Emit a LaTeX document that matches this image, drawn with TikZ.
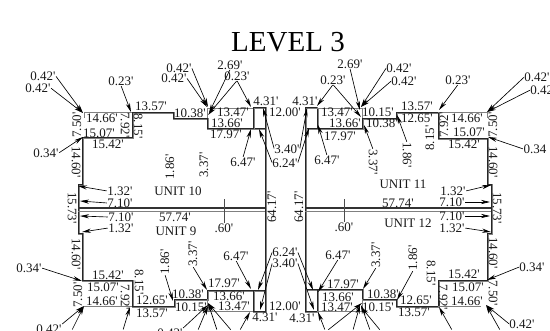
\documentclass[tikz,border=0pt]{standalone}
\usepackage{fontspec}
\usetikzlibrary{arrows.meta}
\newfontfamily\dimf{Liberation Serif}
\newcount\tipno
\newcommand\Tx[4]{\node[dimtext,rotate=#3] (#1) at (#2) {#4};}
\newcommand\Lead[2]{\global\advance\tipno by 1
  \coordinate (tip\the\tipno) at (#2);
  \draw[leader] (#1) -- (tip\the\tipno);}
\newcommand\Wall[1]{\draw[wallg,shift={(0.7,0.7)}] #1; \draw[wallk] #1;}
\tikzset{
  dimtext/.style={font=\dimf\fontsize{13}{13}\selectfont,inner sep=0pt,text=black!90},
  leader/.style={line width=0.65pt,black,-{Stealth[length=9pt,width=4.2pt]},shorten <=0.5pt},
  wallg/.style={line width=2pt,black!50,line join=miter},
  wallk/.style={line width=1pt,black!85,line join=miter},
  thinwall/.style={line width=1pt,black!50},
  tick/.style={line width=0.6pt,black!70}
}
\begin{document}
\begin{tikzpicture}[x=1pt,y=-1pt]
\useasboundingbox (0,0) rectangle (550,330);
\clip (0,0) rectangle (550,330);
\node[font=\dimf\fontsize{29}{29}\selectfont,inner sep=0pt] (title) at (288,42) {LEVEL 3};
% walls, unit 10 and 9 (left)
\Wall{(132,112) -- (173,112) -- (173,118) -- (207,118) -- (207,128.5) -- (265,128.5)}
\Wall{(132,112) -- (132,137) -- (82,137) -- (82,184) -- (78,184) -- (78,233) -- (82,233) -- (82,280) -- (132,280) -- (132,306) -- (174,306) -- (174,299) -- (207,299) -- (207,290) -- (265,290)}
\Wall{(253,107.5) -- (265,107.5) -- (265,311) -- (253,311) -- (253,290)}
\Wall{(253,107.5) -- (253,128.5)}
\draw[thinwall] (84,112) -- (132,112) (84,112) -- (84,118);
\draw[thinwall] (207,108) -- (253,108) (207,108) -- (207,118);
\draw[thinwall] (84,306.5) -- (132,306.5) (207,311) -- (253,311) (207,299) -- (207,311);
\draw[line width=1.1pt,black!80] (78,208) -- (265,208);
\draw[thinwall] (78,211) -- (265,211);
% walls, unit 11 and 12 (right)
\Wall{(396,112) -- (438,112) -- (438,138) -- (487,138) -- (487,184) -- (491,184) -- (491,233) -- (487,233) -- (487,280) -- (438,280) -- (438,306) -- (396,306) -- (396,299) -- (362,299) -- (362,289.5) -- (305,289.5)}
\Wall{(396,112) -- (396,118) -- (362,118) -- (362,128.5) -- (305,128.5)}
\Wall{(317,107.5) -- (305,107.5) -- (305,311) -- (317,311) -- (317,289.5)}
\Wall{(317,107.5) -- (317,128.5)}
\draw[thinwall] (438,112) -- (487,112) (487,112) -- (487,118);
\draw[thinwall] (317,108) -- (362,108) (362,108) -- (362,118);
\draw[thinwall] (438,306.5) -- (481,306.5) (317,311) -- (362,311) (362,299) -- (362,311);
\draw[line width=1.1pt,black!80] (305,208) -- (491,208);
\draw[thinwall] (305,211) -- (491,211);
% ticks
\coordinate (ta) at (224,199); \coordinate (tb) at (344,199);
\Tx{p60a}{224,228}{0}{.60'}
\Tx{p60b}{344,227}{0}{.60'}
\draw[tick] (ta) -- (p60a.north);
\draw[tick] (tb) -- (p60b.north);
% unit names
\Tx{u10}{178,191}{0}{UNIT 10}
\Tx{u9}{176,231}{0}{UNIT 9}
\Tx{u11}{403,184}{0}{UNIT 11}
\Tx{u12}{408,223}{0}{UNIT 12}
% top left texts
\Tx{a1}{43,76}{0}{0.42'}
\Tx{a2}{38,88}{0}{0.42'}
\Tx{a3}{121,81}{0}{0.23'}
\Tx{a4}{151,106}{0}{13.57'}
\Tx{a5}{190,113}{0}{10.38'}
\Tx{a6}{179,68}{0}{0.42'}
\Tx{a7}{174,78}{0}{0.42'}
\Tx{a8}{230,65}{0}{2.69'}
\Tx{a9}{237,76}{0}{0.23'}
\Tx{a10}{233,112}{0}{13.47'}
\Tx{a11}{266,101}{0}{4.31'}
\Tx{a12}{285,112}{0}{12.00'}
\Tx{a13}{227,123}{0}{13.66'}
\Tx{a14}{226,134}{0}{17.97'}
\Tx{a15}{102,118}{0}{14.66'}
\Tx{a16}{77,125}{90}{7.50'}
\Tx{a17}{125,125}{-90}{7.92'}
\Tx{a18}{138,126}{-90}{8.15'}
\Tx{a19}{99,133}{0}{15.07'}
\Tx{a20}{108,144}{0}{15.42'}
\Tx{a21}{46,153}{0}{0.34'}
\Tx{a22}{76,162}{-90}{14.60'}
\Tx{a23}{170,167}{90}{1.86'}
\Tx{a24}{204,165}{90}{3.37'}
\Tx{a25}{243,162}{0}{6.47'}
\Tx{a26}{287,149}{0}{3.40'}
\Tx{a27}{285,163}{0}{6.24'}
% top right texts
\Tx{b1}{305,101}{0}{4.31'}
\Tx{b2}{337,112}{0}{13.47'}
\Tx{b3}{345,123}{0}{13.66'}
\Tx{b4}{340,136}{0}{17.97'}
\Tx{b5}{327,160}{0}{6.47'}
\Tx{b6}{333,80}{0}{0.23'}
\Tx{b7}{350,64}{0}{2.69'}
\Tx{b8}{399,68}{0}{0.42'}
\Tx{b9}{404,81}{0}{0.42'}
\Tx{b10}{378,112}{0}{10.15'}
\Tx{b11}{382,123}{0}{10.38'}
\Tx{b12}{417,106}{0}{13.57'}
\Tx{b13}{417,118}{0}{12.65'}
\Tx{b14}{458,80}{0}{0.23'}
\Tx{b15}{467,118}{0}{14.66'}
\Tx{b16}{444,125}{90}{7.92'}
\Tx{b17}{430,138}{90}{8.15'}
\Tx{b18}{469,132}{0}{15.07'}
\Tx{b19}{464,144}{0}{15.42'}
\Tx{b20}{537,77}{0}{0.42'}
\Tx{b21}{543,90}{0}{0.42'}
\Tx{b22}{493,125}{90}{7.50'}
\Tx{b23}{535,149}{0}{0.34}
\Tx{b24}{493,162}{-90}{14.60'}
\Tx{b25}{407,155}{-90}{1.86'}
\Tx{b26}{373,162}{-90}{3.37'}
% middle texts
\Tx{c1}{120,191}{0}{1.32'}
\Tx{c2}{120,203}{0}{7.10'}
\Tx{c3}{175,217}{0}{57.74'}
\Tx{c4}{121,217}{0}{7.10'}
\Tx{c5}{121,228}{0}{1.32'}
\Tx{c6}{72,208}{-90}{15.73'}
\Tx{c7}{272,207}{90}{64.17'}
\Tx{c8}{299,207}{90}{64.17'}
\Tx{c9}{398,203}{0}{57.74'}
\Tx{c10}{453,191}{0}{1.32'}
\Tx{c11}{452,202}{0}{7.10'}
\Tx{c12}{452,216}{0}{7.10'}
\Tx{c13}{452,228}{0}{1.32'}
\Tx{c14}{497,208}{-90}{15.73'}
% bottom left texts
\Tx{d1}{76,254}{-90}{14.60'}
\Tx{d2}{29,268}{0}{0.34'}
\Tx{d3}{165,262}{90}{1.86'}
\Tx{d4}{193,254}{90}{3.37'}
\Tx{d5}{236,256}{0}{6.47'}
\Tx{d6}{285,252}{0}{6.24'}
\Tx{d7}{285,263}{0}{3.40'}
\Tx{d8}{108,275}{0}{15.42'}
\Tx{d9}{103,287}{0}{15.07'}
\Tx{d10}{125,297}{-90}{7.92'}
\Tx{d11}{139,282}{-90}{8.15'}
\Tx{d12}{78,295}{90}{7.50'}
\Tx{d13}{102,301}{0}{14.66'}
\Tx{d14}{152,300}{0}{12.65'}
\Tx{d15}{152,313}{0}{13.57'}
\Tx{d16}{188,294}{0}{10.38'}
\Tx{d17}{191,307}{0}{10.15'}
\Tx{d18}{224,283}{0}{17.97'}
\Tx{d19}{229,296}{0}{13.66'}
\Tx{d20}{234,306}{0}{13.47'}
\Tx{d21}{265,317}{0}{4.31'}
\Tx{d22}{285,306}{0}{12.00'}
\Tx{d23}{49,329}{0}{0.42'}
\Tx{d24}{170,333}{0}{0.42'}
% bottom right texts
\Tx{e1}{493,253}{-90}{14.60'}
\Tx{e2}{532,267}{0}{0.34'}
\Tx{e3}{413,258}{90}{1.86'}
\Tx{e4}{376,255}{90}{3.37'}
\Tx{e5}{338,255}{0}{6.47'}
\Tx{e6}{343,284}{0}{17.97'}
\Tx{e7}{338,297}{0}{13.66'}
\Tx{e8}{337,307}{0}{13.47'}
\Tx{e9}{383,294}{0}{10.38'}
\Tx{e10}{378,307}{0}{10.15'}
\Tx{e11}{416,300}{0}{12.65'}
\Tx{e12}{414,312}{0}{13.57'}
\Tx{e13}{464,274}{0}{15.42'}
\Tx{e14}{468,287}{0}{15.07'}
\Tx{e15}{443,297}{-90}{7.92'}
\Tx{e16}{431,273}{-90}{8.15'}
\Tx{e17}{467,301}{0}{14.66'}
\Tx{e18}{493,293}{-90}{7.50'}
\Tx{e19}{522,324}{0}{0.42'}
\Tx{e20}{302,318}{0}{4.31'}
% leaders top left
\Lead{a1.east}{83,113}
\Lead{a2.east}{83,113}
\Lead{a3.south}{131,112}
\Lead{a21.east}{83,137}
\Lead{a6.east}{208,107}
\Lead{a7.east}{207,107}
\Lead{a8.south}{209,113}
\Lead{a9.south}{208,115}
\Lead{a9.south}{251,107}
\Lead{a25.north}{251,129}
\Lead{a26.west}{263,108}
\Lead{a27.west}{259,129}
% leaders top right
\Lead{b14.south}{439,110}
\Lead{b8.west}{361,107}
\Lead{b9.west}{361,107}
\Lead{b7.south}{360,110}
\Lead{b6.south}{317,106}
\Lead{b6.south}{361,117}
\Lead{b25.west}{397,115}
\Lead{b26.west}{364,125}
\Lead{b5.north}{318,125}
\Lead{a26.east}{307,108}
\Lead{a27.east}{309,128}
\Lead{b20.west}{487,112}
\Lead{b21.west}{487,112}
\Lead{b23.west}{488,137}
% middle leaders
\Lead{c1.west}{78,186}
\Lead{c2.west}{80,201}
\Lead{c4.west}{80,216}
\Lead{c5.west}{82,232}
\Lead{c10.east}{491,185}
\Lead{c11.east}{490,202}
\Lead{c12.east}{490,216}
\Lead{c13.east}{491,232}
% bottom left leaders
\Lead{d2.east}{82,281}
\Lead{d3.west}{173,301}
\Lead{d4.west}{207,290}
\Lead{d5.south}{251,289}
\Lead{d6.west}{258,290}
\Lead{d7.west}{260,310}
\Lead{d23.north east}{84,306}
\coordinate (fa) at (72,330); \draw[leader] (fa) -- (84,306);
\coordinate (fb) at (123,330); \draw[leader] (fb) -- (130,307);
\Lead{d24.north east}{208,305}
\coordinate (fc) at (198,330); \draw[leader] (fc) -- (208,306);
\coordinate (fd) at (217,330); \draw[leader] (fd) -- (208,303);
\coordinate (fe) at (231,330); \draw[leader] (fe) -- (208,303);
\coordinate (ff) at (240,330); \draw[leader] (ff) -- (250,312);
% bottom right leaders
\Lead{d6.east}{313,290}
\Lead{d7.east}{314,310}
\Lead{e5.south}{318,292}
\Lead{e4.west}{363,289}
\Lead{e3.west}{397,300}
\Lead{e2.west}{487,280}
\Lead{e19.west}{486,305}
\coordinate (ga) at (500,330); \draw[leader] (ga) -- (486,305);
\coordinate (gb) at (452,330); \draw[leader] (gb) -- (439,307);
\coordinate (gc) at (325,330); \draw[leader] (gc) -- (318,312);
\coordinate (gd) at (328,330); \draw[leader] (gd) -- (362,303);
\coordinate (ge) at (353,330); \draw[leader] (ge) -- (360,305);
\coordinate (gf) at (370,330); \draw[leader] (gf) -- (361,305);
\coordinate (gg) at (380,330); \draw[leader] (gg) -- (361,307);
\end{tikzpicture}
\end{document}
